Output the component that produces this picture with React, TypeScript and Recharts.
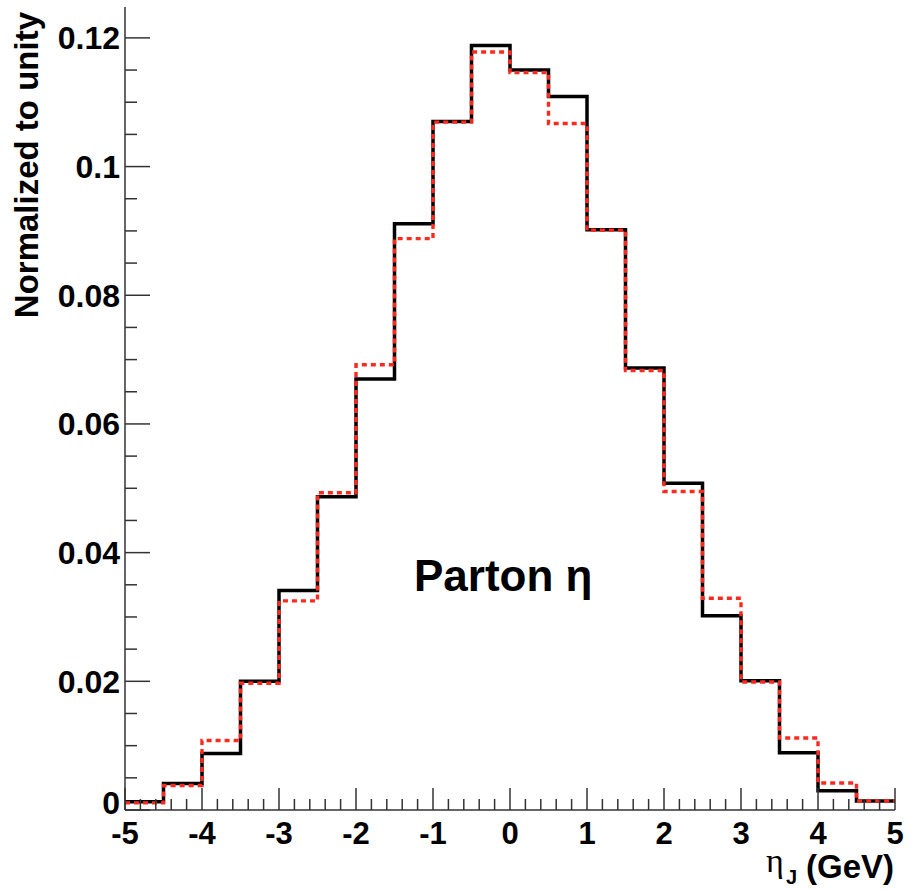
import { ComposedChart, Line, XAxis, YAxis, Customized } from "recharts";

const binEdges = [-5, -4.5, -4, -3.5, -3, -2.5, -2, -1.5, -1, -0.5, 0, 0.5, 1, 1.5, 2, 2.5, 3, 3.5, 4, 4.5, 5];
const blackValues = [
  0.0013, 0.0041, 0.0088, 0.02, 0.0341, 0.0487, 0.067, 0.0911, 0.107, 0.1188,
  0.115, 0.1109, 0.0902, 0.0687, 0.0508, 0.0302, 0.0201, 0.0089, 0.003, 0.0014,
];
const redValues = [
  0.0011, 0.0038, 0.0108, 0.0197, 0.0325, 0.0493, 0.0692, 0.0888, 0.1069, 0.1178,
  0.1146, 0.1067, 0.0901, 0.0683, 0.0495, 0.0329, 0.0199, 0.0112, 0.0042, 0.0014,
];
const xMajorTicks = [-5, -4, -3, -2, -1, 0, 1, 2, 3, 4, 5];
const yMajorTicks = [0, 0.02, 0.04, 0.06, 0.08, 0.1, 0.12];
const yTickLabels = ["0", "0.02", "0.04", "0.06", "0.08", "0.1", "0.12"];

const xMinorStep = 0.2;
const yMinorStep = 0.005;
const Y_MAX = 0.1248;

const xTicks: number[] = [];
for (let i = 0; i <= 50; i++) xTicks.push(Math.round((-5 + i * xMinorStep) * 10) / 10);
const yTicks: number[] = [];
for (let i = 0; i <= 24; i++) yTicks.push(Math.round(i * yMinorStep * 1000) / 1000);

const data = binEdges.map((x, i) => ({
  x,
  black: blackValues[Math.min(i, blackValues.length - 1)],
  red: redValues[Math.min(i, redValues.length - 1)],
}));

const FONT = "'Liberation Sans', Arial, Helvetica, sans-serif";
const TICK_COLOR = "#333";

function XTick({ x, y, payload }: any) {
  const v = payload.value as number;
  const major = xMajorTicks.includes(v);
  return (
    <g>
      <line x1={x} x2={x} y1={y} y2={y - (major ? 22 : 11)} stroke={TICK_COLOR} strokeWidth={1.5} />
      {major && (
        <text x={x} y={y + 34} textAnchor="middle" fontFamily={FONT} fontWeight="bold" fontSize={31} fill="#000">
          {String(v)}
        </text>
      )}
    </g>
  );
}

function YTick({ x, y, payload }: any) {
  const v = payload.value as number;
  const idx = yMajorTicks.findIndex((t) => Math.abs(t - v) < 1e-9);
  const major = idx >= 0;
  // the "0" label sits a little higher so it does not run into the "-5" below
  const dy = v === 0 ? 4 : 11.5;
  return (
    <g>
      <line x1={x} x2={x + (major ? 25 : 12)} y1={y} y2={y} stroke={TICK_COLOR} strokeWidth={1.5} />
      {major && (
        <text x={x - 5} y={y + dy} textAnchor="end" fontFamily={FONT} fontWeight="bold" fontSize={32} fill="#000">
          {yTickLabels[idx]}
        </text>
      )}
    </g>
  );
}

function Annotations() {
  return (
    <g>
      <text
        transform="translate(38,12) rotate(-90)"
        textAnchor="end"
        fontFamily={FONT}
        fontWeight="bold"
        fontSize={33}
        fill="#000"
      >
        Normalized to unity
      </text>
      <text x={414} y={591} fontFamily={FONT} fontWeight="bold" fontSize={44} fill="#000">
        Parton η
      </text>
      <text x={766} y={872} fontFamily="'Liberation Serif', 'DejaVu Serif', serif" fontSize={34} fill="#000">
        η
      </text>
      <text x={786} y={884} fontFamily={FONT} fontWeight="bold" fontSize={20} fill="#000">
        J
      </text>
      <text x={806} y={878} fontFamily={FONT} fontWeight="bold" fontSize={33} fill="#000">
        (GeV)
      </text>
    </g>
  );
}

export default function App() {
  return (
    <div style={{ position: "absolute", left: 0, top: 0, background: "#fff" }}>
      <ComposedChart width={919} height={890} data={data} margin={{ top: 7, right: 24, bottom: 0, left: 0 }}>
        <XAxis
          dataKey="x"
          type="number"
          domain={[-5, 5]}
          ticks={xTicks}
          interval={0}
          tickSize={0}
          tickMargin={0}
          tick={<XTick />}
          height={80}
          axisLine={{ stroke: TICK_COLOR, strokeWidth: 1.5 }}
          allowDataOverflow
        />
        <XAxis
          xAxisId="top"
          orientation="top"
          type="number"
          domain={[-5, 5]}
          height={0}
          tick={false}
          tickLine={false}
          axisLine={{ stroke: "#555", strokeWidth: 1.5 }}
        />
        <YAxis
          type="number"
          domain={[0, Y_MAX]}
          ticks={yTicks}
          interval={0}
          tickSize={0}
          tickMargin={0}
          tick={<YTick />}
          width={125}
          axisLine={{ stroke: TICK_COLOR, strokeWidth: 1.5 }}
          allowDataOverflow
        />
        <YAxis
          yAxisId="right"
          orientation="right"
          type="number"
          domain={[0, Y_MAX]}
          width={0}
          tick={false}
          tickLine={false}
          axisLine={{ stroke: "#555", strokeWidth: 1.5 }}
        />
        <Line
          dataKey="black"
          type="stepAfter"
          stroke="#000"
          strokeWidth={3.5}
          dot={false}
          activeDot={false}
          isAnimationActive={false}
        />
        <Line
          dataKey="red"
          type="stepAfter"
          stroke="#ff2a1f"
          strokeWidth={3.4}
          strokeDasharray="5 4"
          dot={false}
          activeDot={false}
          isAnimationActive={false}
        />
        <Customized component={Annotations} />
      </ComposedChart>
    </div>
  );
}
